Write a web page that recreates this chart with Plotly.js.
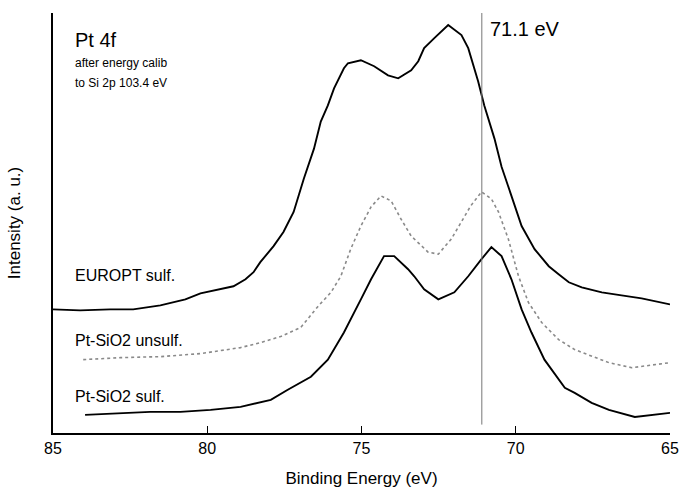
<!DOCTYPE html>
<html>
<head>
<meta charset="utf-8">
<script src="https://cdn.plot.ly/plotly-3.0.1.min.js"></script>
<style>html,body{margin:0;padding:0;background:#fff;}#chart{width:681px;height:491px;}</style>
</head>
<body>
<div id="chart"></div>
<script>
// Binding energy (eV) and intensity (a.u.)
const europtX = [85.00,84.12,83.15,82.40,81.52,80.71,80.22,79.57,79.15,78.76,78.50,78.28,77.85,77.53,77.20,76.87,76.54,76.32,76.09,75.89,75.57,75.44,75.02,74.59,74.14,73.81,73.39,73.16,72.97,72.64,72.19,71.76,71.54,71.22,71.02,70.69,70.46,70.14,69.81,69.39,68.93,68.61,68.28,67.86,67.21,66.57,65.92,65.00];
const europtY = [123,122,123,123,127,133,139,143,146,153,160,170,186,200,220,253,283,310,326,343,363,368,371,365,356,353,361,370,383,393,406,396,383,350,326,293,265,236,206,183,166,158,150,145,140,137,134,128];

const unsulfX = [84.02,82.82,81.52,80.22,78.92,78.27,77.62,76.97,76.41,75.99,75.67,75.35,75.02,74.69,74.37,74.04,73.72,73.39,72.84,72.51,72.09,71.76,71.46,71.11,70.79,70.56,70.24,69.91,69.59,69.16,68.61,68.09,66.98,66.24,65.59,65.00];
const unsulfY = [73,75,76,79,85,90,96,105,126,140,156,183,206,225,236,231,213,196,180,178,193,210,226,240,233,220,193,156,130,110,93,83,70,65,68,70];

const sulfX = [83.96,82.82,81.85,80.87,79.89,78.92,77.94,77.39,76.97,76.64,76.09,75.57,75.02,74.69,74.27,73.94,73.49,73.29,72.97,72.51,71.99,71.54,71.11,70.79,70.46,70.14,69.81,69.49,69.07,68.41,68.09,67.54,66.98,66.14,65.00];
const sulfY = [18,20,21,21,23,26,33,43,50,56,73,100,133,153,176,176,163,156,143,133,140,156,173,185,176,153,123,100,73,45,40,30,23,16,20];

const tickVals = [85,80,75,70,65];
const tickText = ["85","80","75","70","65"];
const refEnergy = 71.1;

const F = "Liberation Sans, Arial, Helvetica, sans-serif";

const traces = [
  {x: europtX, y: europtY, mode: "lines", name: "EUROPT sulf.", line: {color: "#000", width: 1.9}},
  {x: unsulfX, y: unsulfY, mode: "lines", name: "Pt-SiO2 unsulf.", line: {color: "#8a8a8a", width: 1.6, dash: "dot"}},
  {x: sulfX, y: sulfY, mode: "lines", name: "Pt-SiO2 sulf.", line: {color: "#000", width: 1.9}}
];

const layout = {
  width: 681, height: 491,
  margin: {l: 53, r: 11, t: 13, b: 58},
  paper_bgcolor: "#fff", plot_bgcolor: "#fff",
  showlegend: false,
  font: {family: F, color: "#000"},
  xaxis: {
    range: [85, 65], tickvals: tickVals, ticktext: tickText,
    showline: true, linecolor: "#000", linewidth: 2, mirror: false,
    ticks: "inside", ticklen: 7, tickcolor: "#000", tickwidth: 1,
    showgrid: false, zeroline: false,
    tickfont: {family: F, size: 16, color: "#000"},
    title: {text: "Binding Energy (eV)", font: {family: F, size: 17, color: "#000"}, standoff: 16}
  },
  yaxis: {
    range: [0, 418], showline: true, linecolor: "#000", linewidth: 2,
    showticklabels: false, ticks: "", showgrid: false, zeroline: false,
    title: {text: "Intensity (a. u.)", font: {family: F, size: 17, color: "#000"}, standoff: 26}
  },
  shapes: [
    {type: "line", xref: "x", yref: "paper", x0: refEnergy, x1: refEnergy, y0: 0.02, y1: 1.0,
     line: {color: "#777", width: 1}}
  ],
  annotations: [
    {text: "Pt 4f", xref: "paper", yref: "paper", x: 0.032, y: 0.936, xanchor: "left", yanchor: "middle", showarrow: false, font: {family: F, size: 20, color: "#000"}},
    {text: "after energy calib", xref: "paper", yref: "paper", x: 0.032, y: 0.881, xanchor: "left", yanchor: "middle", showarrow: false, font: {family: F, size: 12, color: "#000"}},
    {text: "to Si 2p 103.4 eV", xref: "paper", yref: "paper", x: 0.032, y: 0.833, xanchor: "left", yanchor: "middle", showarrow: false, font: {family: F, size: 12, color: "#000"}},
    {text: "71.1 eV", xref: "paper", yref: "paper", x: 0.705, y: 0.962, xanchor: "left", yanchor: "middle", showarrow: false, font: {family: F, size: 20, color: "#000"}},
    {text: "EUROPT sulf.", xref: "paper", yref: "paper", x: 0.032, y: 0.376, xanchor: "left", yanchor: "middle", showarrow: false, font: {family: F, size: 16, color: "#000"}},
    {text: "Pt-SiO2 unsulf.", xref: "paper", yref: "paper", x: 0.032, y: 0.221, xanchor: "left", yanchor: "middle", showarrow: false, font: {family: F, size: 16, color: "#000"}},
    {text: "Pt-SiO2 sulf.", xref: "paper", yref: "paper", x: 0.032, y: 0.088, xanchor: "left", yanchor: "middle", showarrow: false, font: {family: F, size: 16, color: "#000"}}
  ]
};

Plotly.newPlot("chart", traces, layout, {displayModeBar: false, staticPlot: true});
</script>
</body>
</html>
